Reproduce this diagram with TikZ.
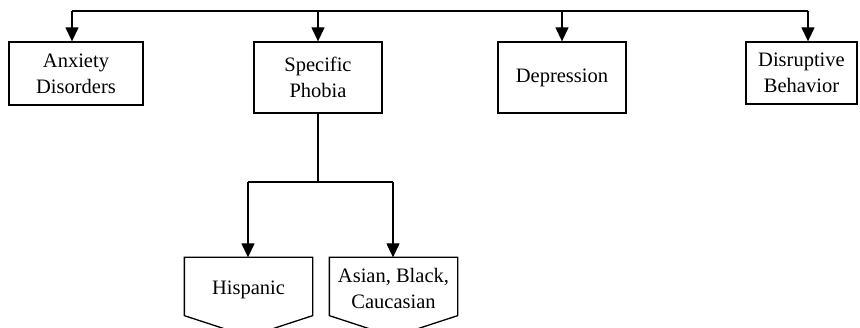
\documentclass[tikz,border=0pt]{standalone}
\usepackage{fontspec}
\setmainfont{Liberation Serif}
\usetikzlibrary{arrows.meta,calc}
\begin{document}
\begin{tikzpicture}[x=1pt,y=1pt,
  line width=1.3pt,
  box/.style={draw, line width=1.3pt, inner sep=0pt, align=center, font=\fontsize{20.5}{26}\selectfont},
  lbl/.style={inner sep=0pt, align=center, font=\fontsize{20.5}{26}\selectfont},
  arr/.style={-{Triangle[width=13pt,length=14pt]}}]
\useasboundingbox (0,0) rectangle (860,327);
\clip (0,0) rectangle (860,327);
% top boxes
\node[box, minimum width=134pt, minimum height=63pt] (anx) at (76,253.5) {Anxiety\\Disorders};
\node[box, minimum width=128pt, minimum height=71pt] (sp) at (318,249.5) {Specific\\Phobia};
\node[box, minimum width=128pt, minimum height=71pt] (dep) at (562,249.5) {Depression};
\node[box, minimum width=111pt, minimum height=62pt] (dis) at (801.5,254) {Disruptive\\Behavior};
% top bus
\coordinate (t1) at (72,316);
\coordinate (t2) at (318,316);
\coordinate (t3) at (562,316);
\coordinate (t4) at (808,316);
\draw (t1) -- (t4);
\draw[arr] (t1) -- (t1 |- anx.north);
\draw[arr] (t2) -- (t2 |- sp.north);
\draw[arr] (t3) -- (t3 |- dep.north);
\draw[arr] (t4) -- (t4 |- dis.north);
% bottom off-page shapes
\node[lbl, minimum width=127pt, minimum height=57pt] (his) at (248.5,40.5) {};
\node[lbl, minimum width=127pt, minimum height=57pt] (asi) at (393.5,40.5) {};
\draw (his.north west) -- (his.north east) -- (his.south east) -- ($(his.south)+(0,-21)$) -- (his.south west) -- cycle;
\draw (asi.north west) -- (asi.north east) -- (asi.south east) -- ($(asi.south)+(0,-21)$) -- (asi.south west) -- cycle;
\node[lbl] (histxt) at ($(his.center)+(0,-3)$) {Hispanic};
\node[lbl] (asitxt) at ($(asi.center)+(0,-2)$) {Asian, Black,\\Caucasian};
% branch
\coordinate (b0) at (318,145);
\coordinate (bh) at (248,145);
\coordinate (ba) at (393,145);
\draw (sp.south) -- (b0);
\draw (bh) -- (ba);
\draw[arr] (bh) -- (bh |- his.north);
\draw[arr] (ba) -- (ba |- asi.north);
\end{tikzpicture}
\end{document}
